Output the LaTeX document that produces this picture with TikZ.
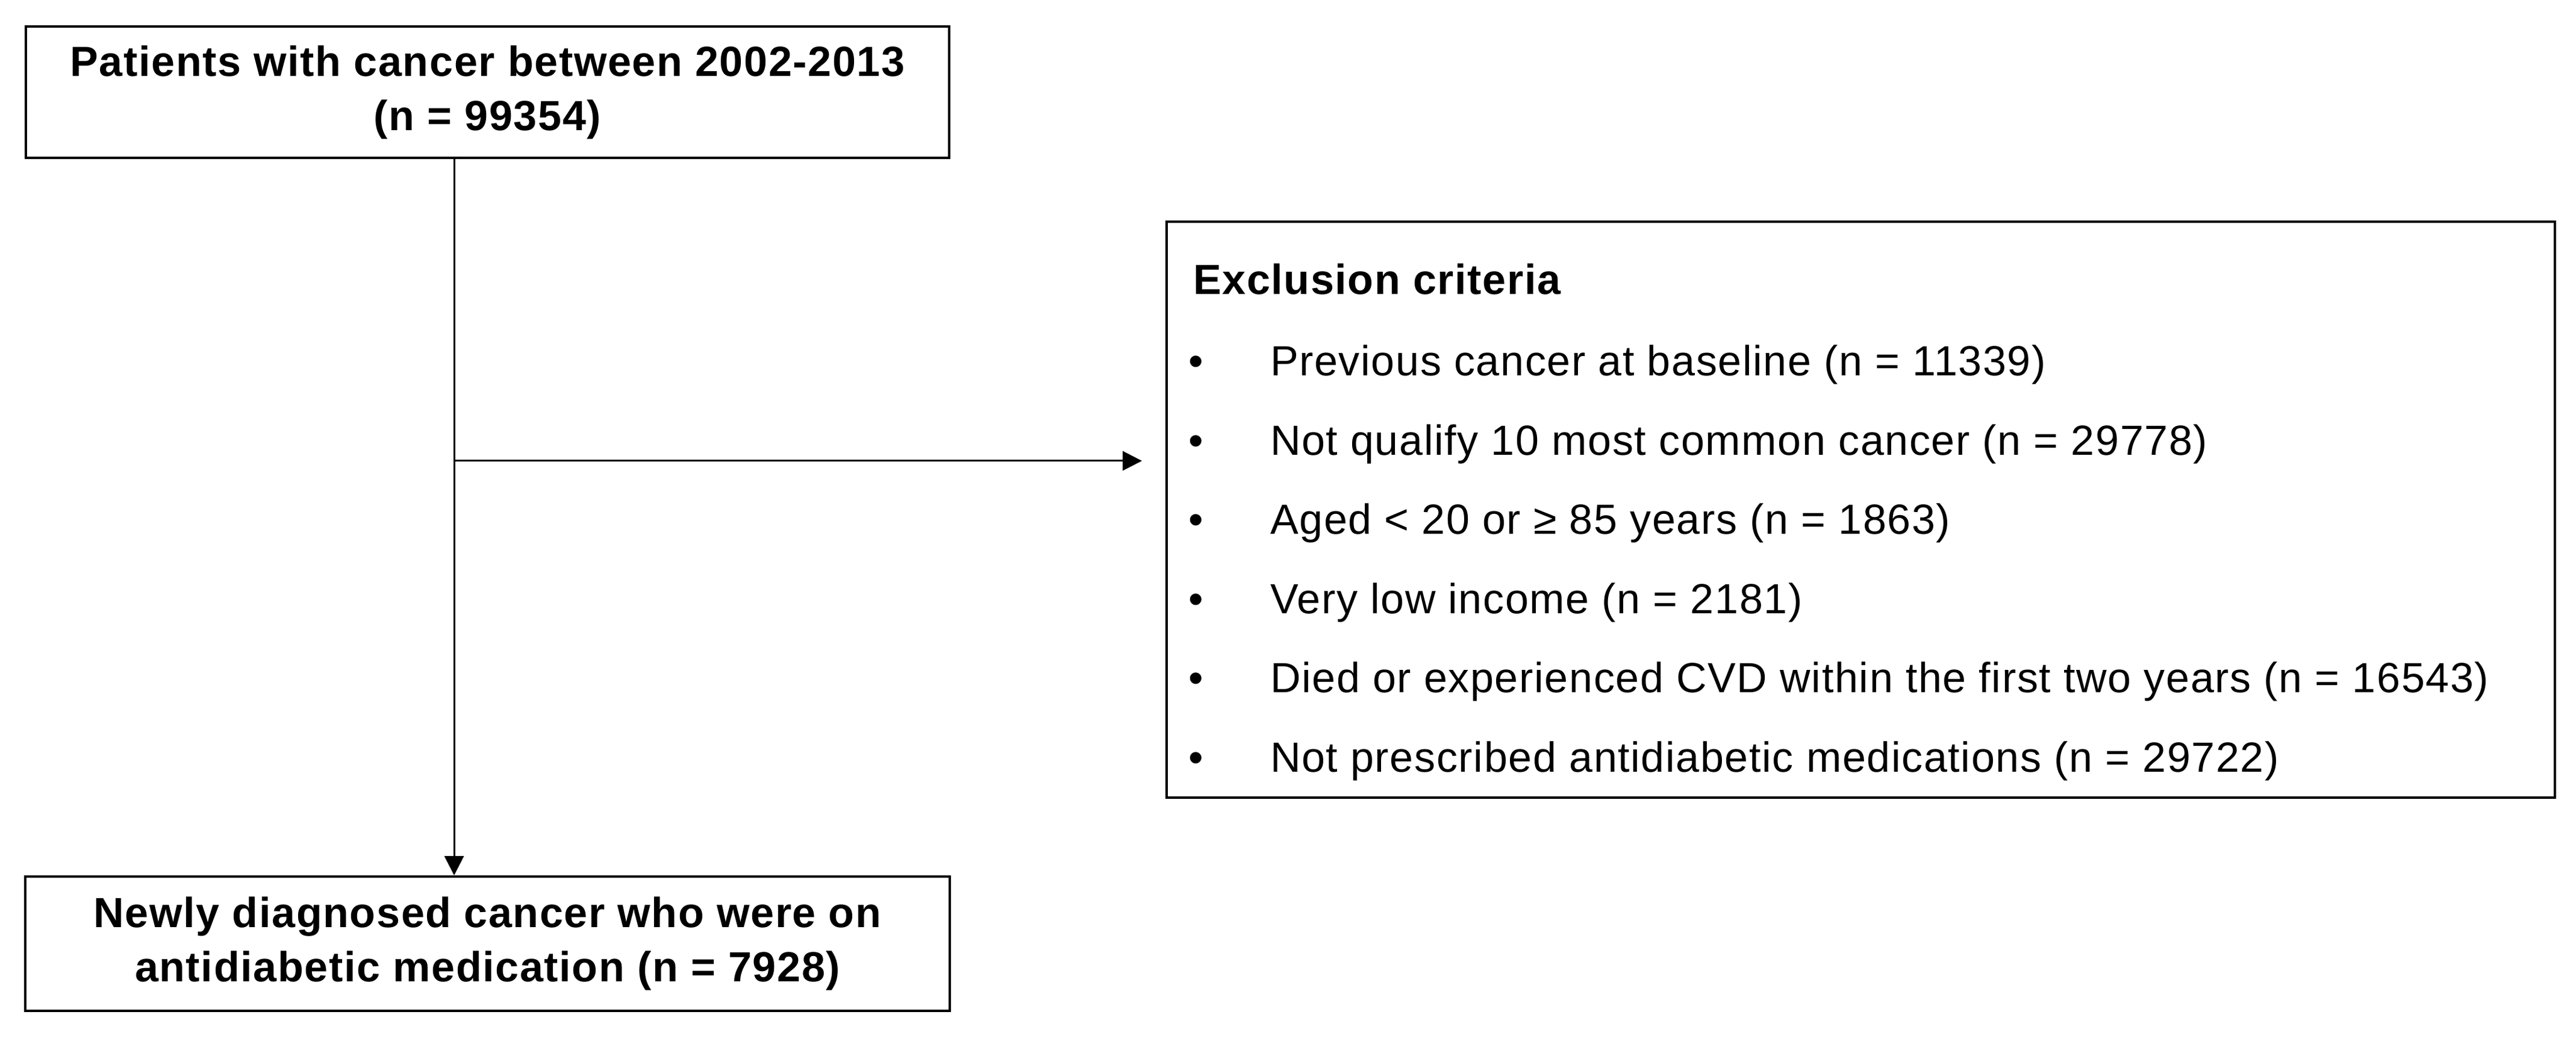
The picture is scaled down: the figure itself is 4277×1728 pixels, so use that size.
\documentclass[tikz,border=0pt]{standalone}
\usepackage{fontspec}
\setmainfont{Liberation Sans}[LetterSpace=2.4]
\usetikzlibrary{arrows.meta}
\begin{document}
\begin{tikzpicture}[x=0.2pt,y=-0.2pt,
  box/.style={draw=black,line width=0.8pt,fill=white,inner sep=0pt,align=center,
    font=\fontsize{14}{18}\selectfont\bfseries},
  item/.style={inner sep=0pt,anchor=base west,font=\fontsize{14}{18}\selectfont},
  conn/.style={draw=black,line width=0.6pt},
  arr/.style={conn,-{Triangle[length=6.4pt,width=6.4pt]}}]
\useasboundingbox (0,0) rectangle (4277,1728);
\node[box,minimum width=306.6pt,minimum height=43.6pt] (top) at (809.5,153)
  {Patients with cancer between 2002-2013\\(n = 99354)};
\node[box,minimum width=306.8pt,minimum height=44.6pt] (bot) at (809.5,1566.5)
  {Newly diagnosed cancer who were on\\antidiabetic medication (n = 7928)};
\node[draw=black,line width=0.8pt,inner sep=0pt,minimum width=461pt,minimum height=191.2pt] (excl) at (3089.5,846) {};
\node[item,font=\fontsize{14}{18}\selectfont\bfseries] (eh) at (1980,489) {Exclusion criteria};
\foreach \t [count=\i] in {Previous cancer at baseline (n = 11339),
  Not qualify 10 most common cancer (n = 29778),
  Aged < 20 or ≥ 85 years (n = 1863),
  Very low income (n = 2181),
  Died or experienced CVD within the first two years (n = 16543),
  Not prescribed antidiabetic medications (n = 29722)}{
  \node[item] (b\i) at (1972,{624+131.5*(\i-1)}) {•};
  \node[item] (t\i) at (2108,{624+131.5*(\i-1)}) {\t};
}
\coordinate (split) at (754,765);
\coordinate (exend) at (1896,765);
\draw[conn] (top.south -| split) -- (split);
\draw[arr] (split) -- (exend);
\draw[arr] (split) -- (bot.north -| split);
\end{tikzpicture}
\end{document}
